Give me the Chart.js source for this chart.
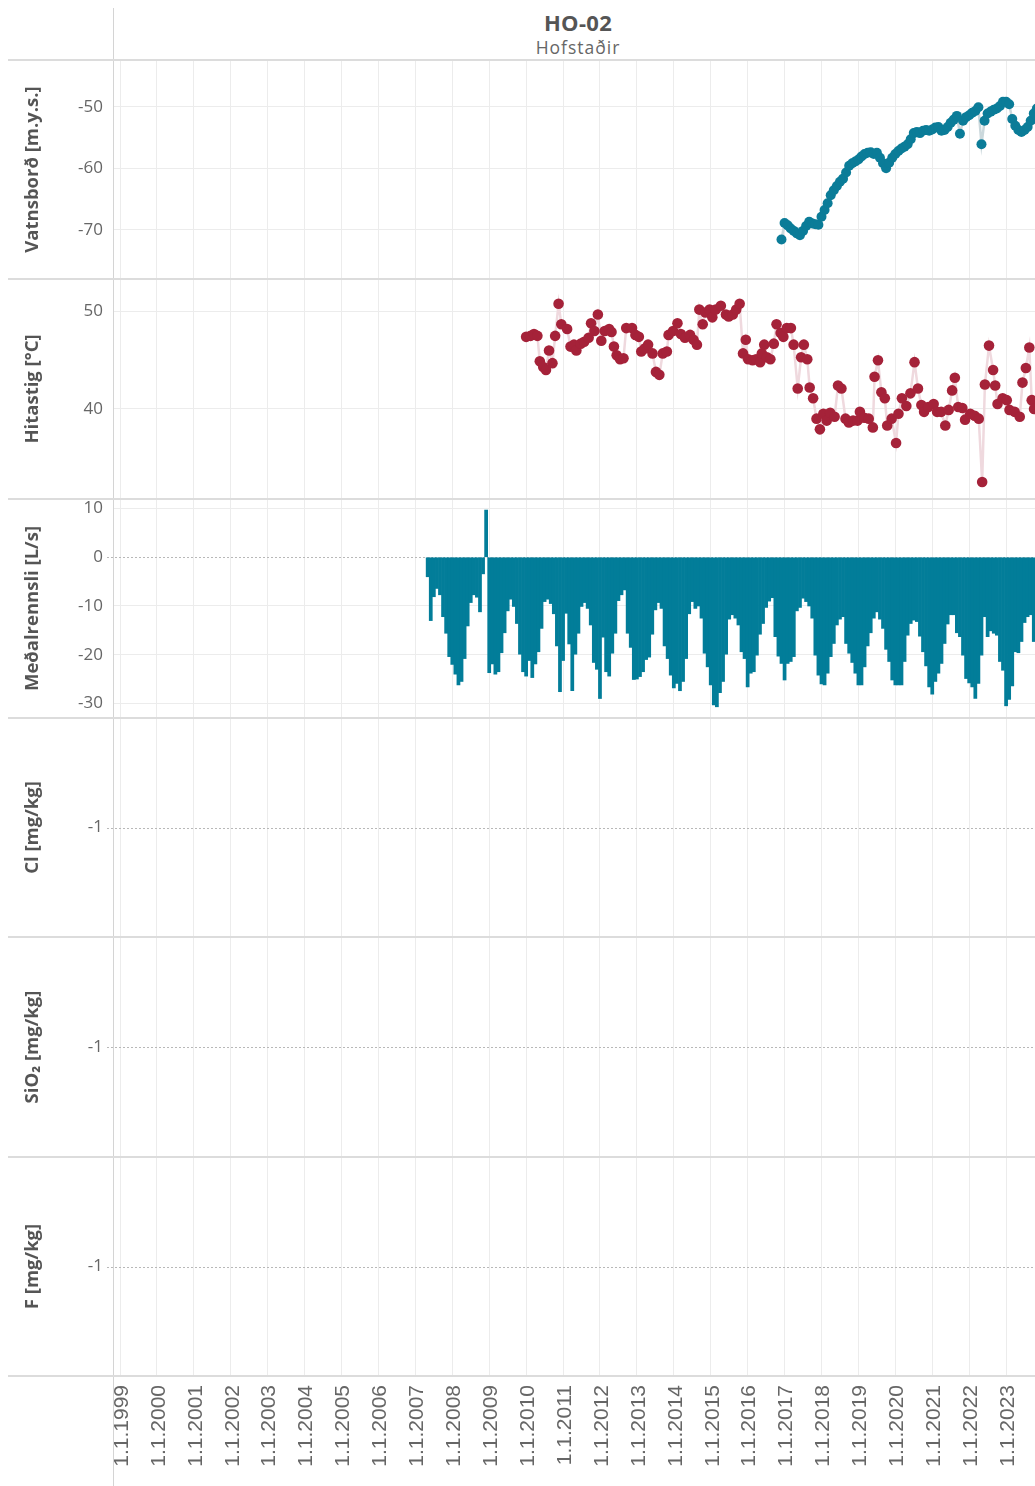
<!DOCTYPE html>
<html>
<head>
<meta charset="utf-8">
<script src="https://cdn.jsdelivr.net/npm/chart.js@4.4.0/dist/chart.umd.min.js"></script>
<style>
html,body{margin:0;padding:0;background:#fff;}
#page{position:relative;width:1035px;height:1486px;overflow:hidden;background:#fff;font-family:'Open Sans',sans-serif;}
.panel{position:absolute;left:0;}
.hline{position:absolute;left:8px;width:1027px;height:2px;background:#dcdcdc;z-index:5;}
.vline{position:absolute;left:113px;top:8px;width:1px;height:1478px;background:#d4d4d4;z-index:5;}
#title{position:absolute;left:378px;width:400px;top:8px;text-align:center;color:#555;z-index:6;}
#title .t1{font-weight:700;font-size:22px;line-height:28px;letter-spacing:0.3px;}
#title .t2{font-size:17.5px;line-height:22px;letter-spacing:1px;color:#666;}
</style>
</head>
<body>
<div id="page">
  <div id="title"><div class="t1">HO-02</div><div class="t2">Hofstaðir</div></div>
  <div class="vline"></div>
  <div class="hline" style="top:59px"></div>
  <div class="hline" style="top:278px"></div>
  <div class="hline" style="top:498px"></div>
  <div class="hline" style="top:717px"></div>
  <div class="hline" style="top:936px"></div>
  <div class="hline" style="top:1156px"></div>
  <div class="hline" style="top:1375px"></div>
  <canvas id="c1" class="panel" style="top:60px" width="1035" height="219"></canvas>
  <canvas id="c2" class="panel" style="top:279px" width="1035" height="220"></canvas>
  <canvas id="c3" class="panel" style="top:499px" width="1035" height="219"></canvas>
  <canvas id="c4" class="panel" style="top:718px" width="1035" height="219"></canvas>
  <canvas id="c5" class="panel" style="top:937px" width="1035" height="220"></canvas>
  <canvas id="c6" class="panel" style="top:1157px" width="1035" height="329"></canvas>
</div>
<script>
// ---------------- DATA ----------------
const stationName = 'HO-02';
const stationPlace = 'Hofstaðir';
const yearTicks = [1999,2000,2001,2002,2003,2004,2005,2006,2007,2008,2009,2010,2011,2012,
                   2013,2014,2015,2016,2017,2018,2019,2020,2021,2022,2023];

// Vatnsborð [m.y.s.] — monthly readings starting Dec 2016
const levelStart = {year: 2016, month: 12};
const levelValues = [
  -71.6, -68.9, -69.3, -69.8, -70.2, -70.6, -70.9, -70.2, -69.4, -68.7,
  -69.0, -69.1, -69.2, -67.9, -66.8, -65.7, -64.4, -63.6, -62.9, -62.2,
  -61.7, -60.7, -59.6, -59.2, -58.9, -58.6, -58.1, -57.7, -57.5, -57.4,
  -57.7, -57.5, -58.3, -59.2, -60.0, -59.1, -58.3, -57.7, -57.2, -56.8,
  -56.5, -56.1, -55.3, -54.3, -54.1, -54.3, -53.9, -53.8, -53.9, -53.7,
  -53.4, -53.3, -53.9, -53.8, -53.3, -52.6, -52.1, -51.5, -54.4, -52.3,
  -51.7, -51.4, -51.0, -50.7, -50.1, -56.1, -52.3, -51.1, -50.8, -50.5,
  -50.3, -49.9, -49.2, -49.2, -49.6, -52.0, -53.1, -53.8, -54.1, -53.8,
  -53.3, -52.3, -51.1, -50.3
];

// Hitastig [°C] — sample dates (decimal years) and values
const tempYears = [
  2010.000, 2010.120, 2010.213, 2010.305, 2010.370, 2010.463, 2010.537, 2010.620, 2010.712, 2010.786,
  2010.879, 2010.953, 2011.110, 2011.203, 2011.295, 2011.360, 2011.480, 2011.573, 2011.693, 2011.758,
  2011.850, 2011.943, 2012.036, 2012.128, 2012.248, 2012.313, 2012.378, 2012.452, 2012.544, 2012.637,
  2012.711, 2012.868, 2012.961, 2013.053, 2013.118, 2013.211, 2013.303, 2013.423, 2013.516, 2013.608,
  2013.701, 2013.812, 2013.858, 2013.979, 2014.099, 2014.191, 2014.302, 2014.441, 2014.534, 2014.626,
  2014.691, 2014.783, 2014.857, 2014.969, 2015.043, 2015.135, 2015.274, 2015.413, 2015.487, 2015.598,
  2015.690, 2015.783, 2015.875, 2015.949, 2016.014, 2016.134, 2016.227, 2016.338, 2016.384, 2016.449,
  2016.523, 2016.615, 2016.708, 2016.782, 2016.893, 2016.967, 2017.060, 2017.171, 2017.245, 2017.356,
  2017.448, 2017.522, 2017.615, 2017.680, 2017.773, 2017.865, 2017.957, 2018.050, 2018.142, 2018.235,
  2018.355, 2018.447, 2018.540, 2018.651, 2018.743, 2018.855, 2018.975, 2019.040, 2019.160, 2019.280,
  2019.391, 2019.437, 2019.530, 2019.622, 2019.715, 2019.780, 2019.900, 2020.020, 2020.085, 2020.178,
  2020.298, 2020.409, 2020.520, 2020.613, 2020.705, 2020.779, 2020.890, 2021.038, 2021.131, 2021.242,
  2021.353, 2021.445, 2021.538, 2021.612, 2021.704, 2021.815, 2021.889, 2022.028, 2022.148, 2022.259,
  2022.352, 2022.426, 2022.537, 2022.648, 2022.704, 2022.768, 2022.907, 2023.018, 2023.092, 2023.231,
  2023.370, 2023.444, 2023.536, 2023.629, 2023.694, 2023.758
];
const tempValues = [
  47.4, 47.5, 47.7, 47.5, 44.9, 44.3, 44.0, 46.0, 44.7, 47.5,
  50.8, 48.7, 48.2, 46.4, 46.6, 46.0, 46.7, 46.9, 47.3, 48.8,
  48.0, 49.7, 47.0, 48.0, 48.2, 47.9, 46.4, 45.5, 45.1, 45.2,
  48.3, 48.3, 47.6, 47.4, 45.9, 46.2, 46.6, 45.7, 43.8, 43.5,
  45.7, 45.9, 47.6, 48.0, 48.8, 47.7, 47.3, 47.6, 47.1, 46.6,
  50.2, 48.7, 49.9, 50.2, 49.4, 50.2, 50.6, 49.7, 49.5, 49.7,
  50.2, 50.8, 45.7, 47.1, 45.1, 45.0, 45.1, 44.8, 45.7, 46.6,
  45.3, 45.1, 46.7, 48.7, 47.8, 47.4, 48.3, 48.3, 46.6, 42.1,
  45.3, 46.6, 45.1, 42.2, 41.1, 39.0, 37.9, 39.5, 38.8, 39.6,
  39.2, 42.4, 42.1, 39.0, 38.6, 38.8, 38.8, 39.7, 39.1, 39.0,
  38.1, 43.3, 45.0, 41.7, 41.1, 38.3, 39.0, 36.5, 39.5, 41.1,
  40.3, 41.6, 44.8, 42.1, 40.4, 39.7, 40.2, 40.5, 39.7, 39.7,
  38.3, 39.9, 41.9, 43.2, 40.2, 40.1, 38.9, 39.5, 39.3, 39.0,
  32.5, 42.5, 46.5, 44.0, 42.4, 40.5, 41.1, 40.9, 39.9, 39.7,
  39.2, 42.7, 44.2, 46.3, 40.9, 40.0
];

// Meðalrennsli [L/s] — monthly means starting May 2007
const flowStart = {year: 2007, month: 5};
const flowValues = [
  -4.0, -13.0, -8.1, -6.4, -7.7, -12.2, -15.6, -20.4, -22.0, -24.0,
  -26.2, -25.5, -20.8, -14.1, -9.3, -7.7, -8.2, -11.2, -3.4, 9.7,
  -23.7, -21.9, -24.0, -23.5, -19.6, -15.5, -11.0, -8.6, -10.1, -13.6,
  -19.9, -23.5, -24.4, -21.2, -24.7, -21.9, -19.4, -14.6, -9.1, -8.6,
  -9.5, -11.6, -18.2, -27.6, -21.2, -11.5, -17.8, -27.4, -19.9, -15.6,
  -10.1, -9.3, -10.5, -13.9, -21.6, -23.0, -29.0, -16.4, -23.5, -24.4,
  -19.7, -15.6, -8.9, -7.7, -6.7, -15.6, -18.5, -25.1, -25.0, -24.5,
  -23.5, -21.0, -20.5, -15.8, -10.8, -9.3, -10.5, -18.2, -20.8, -24.2,
  -26.8, -25.9, -27.4, -25.5, -20.8, -11.6, -9.1, -10.5, -10.0, -12.5,
  -19.7, -22.5, -26.2, -30.3, -30.7,
  -27.8, -25.5, -19.9, -12.7, -11.8, -12.5, -13.9, -19.4, -20.8, -26.6,
  -23.8, -23.5, -20.1, -15.8, -13.6, -10.3, -9.0, -8.3, -16.3, -20.3,
  -21.8, -25.2, -21.8, -21.4, -20.4, -11.0, -10.3, -8.4, -9.1, -10.0,
  -12.5, -20.1, -24.2, -26.0, -26.2, -23.8, -20.4, -17.7, -13.9, -12.7,
  -12.2, -17.7, -19.7, -21.6, -23.8, -26.2, -26.2, -22.5, -18.2, -15.5,
  -12.5, -11.2, -12.7, -14.6, -18.9, -21.4, -25.2, -26.2, -26.2, -26.2,
  -21.4, -16.0, -13.6, -12.9, -13.2, -16.2, -19.4, -22.3, -26.6, -28.1,
  -25.5, -23.8, -21.8, -17.7, -13.7, -11.8, -11.8, -15.5, -16.3, -20.1,
  -24.9, -25.8, -26.6, -29.0, -25.9, -20.1, -12.2, -16.3, -15.1, -15.6,
  -16.0, -21.4, -23.2, -30.5, -29.2, -26.4, -19.4, -19.6, -17.3, -13.4,
  -12.2, -11.8, -17.3
];

// Empty chemistry panels (no samples)
const clValues = [];
const sio2Values = [];
const fValues = [];

const panelTitles = ['Vatnsborð [m.y.s.]', 'Hitastig [°C]', 'Meðalrennsli [L/s]', 'Cl [mg/kg]', 'SiO₂ [mg/kg]', 'F [mg/kg]'];
const levelTicks = [-70, -60, -50];
const tempTicks = [40, 50];
const flowTicks = [-30, -20, -10, 0, 10];
const chemTicks = [-1];

// ---------------- HELPERS ----------------
const X_MIN = 1998.810;
const X_MAX = 2023.783;
const monthX = (start, i) => start.year + (start.month - 1 + i) / 12;

const GRID = '#ececec';
const TICK_COLOR = '#666';
const TITLE_COLOR = '#555';

const refLine = {
  id: 'refLine',
  beforeDatasetsDraw(chart, args, opts) {
    if (opts.value === undefined || opts.value === null) return;
    const ys = chart.scales.y;
    const y = Math.round(ys.getPixelForValue(opts.value)) + 0.5;
    const {left, right} = chart.chartArea;
    const ctx = chart.ctx;
    ctx.save();
    ctx.strokeStyle = '#b8b8b8';
    ctx.lineWidth = 1;
    ctx.setLineDash([2, 2]);
    ctx.beginPath();
    ctx.moveTo(left - 6, y);
    ctx.lineTo(right, y);
    ctx.stroke();
    ctx.restore();
  }
};

function makeOptions(cfg) {
  return {
    responsive: false,
    maintainAspectRatio: false,
    animation: false,
    events: [],
    layout: {padding: 0, autoPadding: false},
    plugins: {
      legend: {display: false},
      tooltip: {enabled: false},
      refLine: {value: cfg.refValue}
    },
    scales: {
      x: {
        type: 'linear',
        min: X_MIN,
        max: X_MAX,
        offset: false,
        afterBuildTicks: s => { s.ticks = yearTicks.map(v => ({value: v})); },
        afterFit: s => {
          s.paddingLeft = 0; s.paddingRight = 0;
          s.height = cfg.showX ? 110 : 0;
        },
        grid: {color: GRID, lineWidth: 1, drawTicks: false, offset: false},
        border: {display: false},
        ticks: {
          display: !!cfg.showX,
          autoSkip: false,
          minRotation: 90,
          maxRotation: 90,
          padding: 9,
          labelOffset: 2,
          color: TICK_COLOR,
          font: {family: "'Liberation Sans', Arial, sans-serif", size: 21},
          callback: v => '1.1.' + v
        }
      },
      y: {
        type: 'linear',
        min: cfg.yMin,
        max: cfg.yMax,
        offset: false,
        afterBuildTicks: s => { s.ticks = cfg.ticks.map(v => ({value: v})); },
        afterFit: s => { s.width = 113; s.paddingTop = 0; s.paddingBottom = 0; },
        grid: {
          color: c => (cfg.refValue !== undefined && c.tick && c.tick.value === cfg.refValue) ? 'rgba(0,0,0,0)' : GRID,
          lineWidth: 1,
          drawTicks: false
        },
        border: {display: false},
        ticks: {
          padding: 10,
          color: TICK_COLOR,
          font: {family: "'Open Sans', sans-serif", size: 17},
          callback: v => String(v)
        },
        title: {
          display: true,
          text: cfg.title,
          color: TITLE_COLOR,
          font: {family: "'Open Sans', sans-serif", size: 18.5, weight: 'bold'},
          padding: {top: 22, bottom: 0}
        }
      }
    }
  };
}

// ---------------- CHARTS ----------------
// 1. Vatnsborð
new Chart(document.getElementById('c1'), {
  type: 'line',
  data: {
    datasets: [{
      data: levelValues.map((v, i) => ({x: monthX(levelStart, i), y: v})),
      borderColor: '#cbd8dc',
      borderWidth: 2.5,
      pointRadius: 5,
      pointBorderWidth: 0,
      pointBackgroundColor: '#0b7c98',
      tension: 0
    }]
  },
  options: makeOptions({yMin: -78.02, yMax: -42.41, ticks: levelTicks, title: panelTitles[0]}),
  plugins: [refLine]
});

// 2. Hitastig
new Chart(document.getElementById('c2'), {
  type: 'line',
  data: {
    datasets: [{
      data: tempValues.map((v, i) => ({x: tempYears[i], y: v})),
      borderColor: '#efd9de',
      borderWidth: 2.5,
      pointRadius: 5.3,
      pointBorderWidth: 0,
      pointBackgroundColor: '#a52239',
      tension: 0
    }]
  },
  options: makeOptions({yMin: 30.75, yMax: 53.34, ticks: tempTicks, title: panelTitles[1]}),
  plugins: [refLine]
});

// 3. Meðalrennsli
new Chart(document.getElementById('c3'), {
  type: 'bar',
  data: {
    datasets: [{
      data: flowValues.map((v, i) => ({x: monthX(flowStart, i), y: v})),
      backgroundColor: '#027d99',
      borderWidth: 0,
      barPercentage: 1,
      categoryPercentage: 1
    }]
  },
  options: makeOptions({yMin: -33.0, yMax: 11.97, ticks: flowTicks, title: panelTitles[2], refValue: 0}),
  plugins: [refLine]
});

// 4-6. Chemistry panels (empty)
[['c4', clValues, 3, false], ['c5', sio2Values, 4, false], ['c6', fValues, 5, true]].forEach(([id, vals, ti, showX]) => {
  new Chart(document.getElementById(id), {
    type: 'line',
    data: {datasets: [{data: vals, borderColor: '#0b7c98', pointRadius: 4}]},
    options: makeOptions({yMin: -2, yMax: 0, ticks: chemTicks, title: panelTitles[ti], refValue: -1, showX: showX}),
    plugins: [refLine]
  });
});
</script>
</body>
</html>
